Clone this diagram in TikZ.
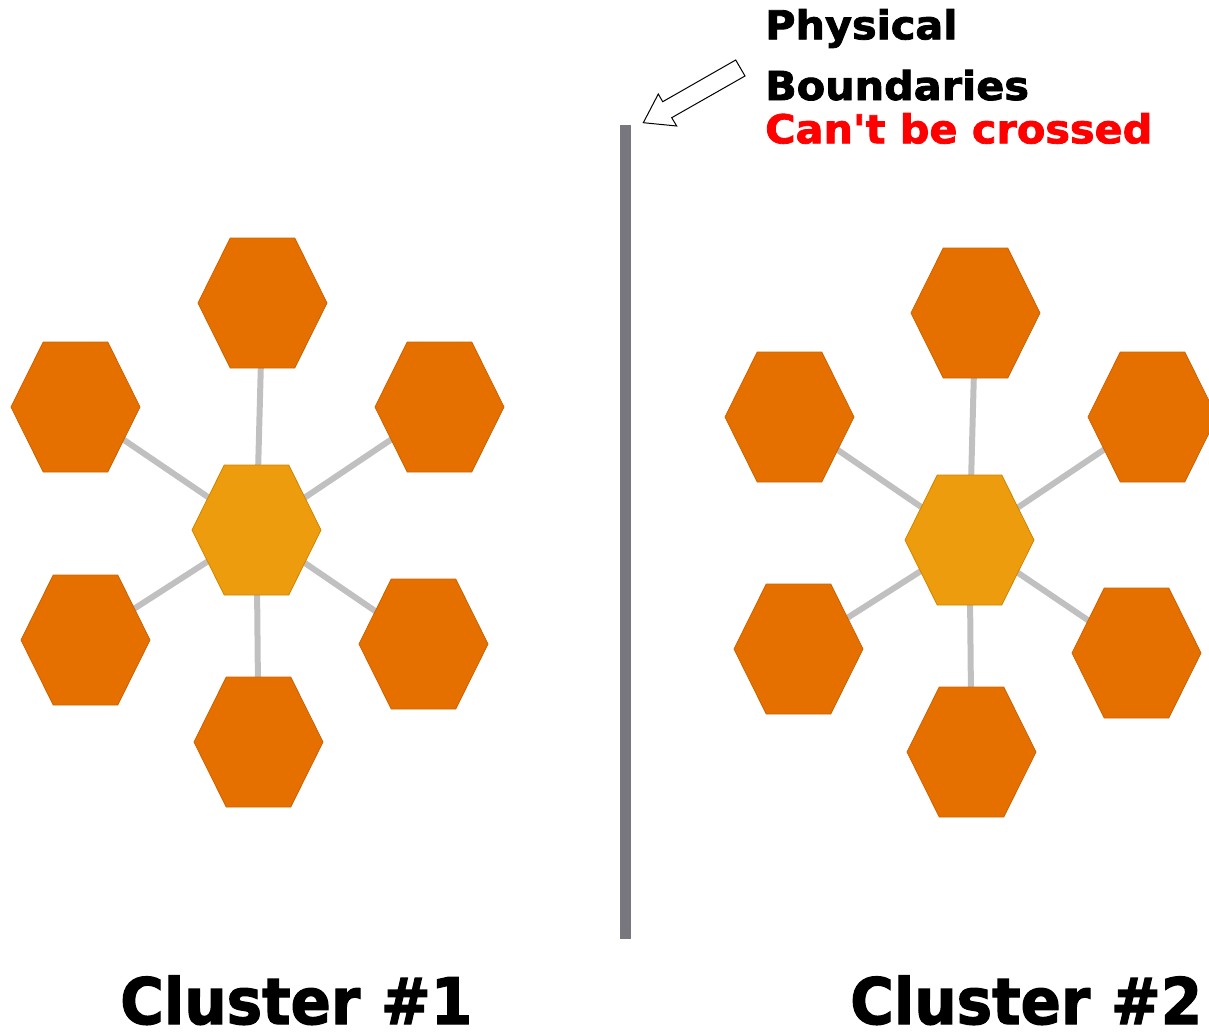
\documentclass[tikz,border=0pt]{standalone}
\usepackage{fontspec}
\setmainfont{DejaVu Sans}
\newfontfamily\straightfont{DejaVu Sans}[Ligatures=TeXOff]
\definecolor{outerhex}{HTML}{E57000}
\definecolor{outerrim}{HTML}{CC6300}
\definecolor{corehex}{HTML}{EC9C0C}
\definecolor{corerim}{HTML}{D08500}
\definecolor{linkgray}{HTML}{C0C0C0}
\definecolor{wallgray}{HTML}{77777D}
\definecolor{warnred}{HTML}{FF0000}
\newcommand{\heavy}{\bfseries\addfontfeature{FakeBold=2}}
\newcommand{\widen}[1]{\scalebox{1.04}[1]{#1}}
\tikzset{
  pics/hexa/.style={code={
    \filldraw[#1] (-64.5,0) -- (-32.25,-65) -- (32.25,-65) -- (64.5,0)
      -- (32.25,65) -- (-32.25,65) -- cycle;
  }},
  outerstyle/.style={fill=outerhex, draw=outerrim, line width=0.8pt},
  corestyle/.style={fill=corehex, draw=corerim, line width=0.8pt},
  link/.style={draw=linkgray, line width=6pt},
  wall/.style={draw=wallgray, line width=11pt},
  callout/.style={fill=white, draw=black, line width=1pt, line join=miter},
  headtext/.style={anchor=base west, inner sep=0pt, font=\fontsize{39.8}{44}\selectfont\heavy},
  clustertext/.style={anchor=base west, inner sep=0pt, font=\fontsize{64}{70}\selectfont\heavy},
}
\begin{document}
\begin{tikzpicture}[x=1pt, y=-1pt]
\useasboundingbox (0,0) rectangle (1209,1031);
\begin{scope}
\clip (0,0) rectangle (1209,1031);

% cluster 1 hub and satellites
\coordinate (a0) at (256.5,530);
\coordinate (a1) at (262.5,303);
\coordinate (a2) at (439.5,407);
\coordinate (a3) at (423.5,644);
\coordinate (a4) at (258.5,742);
\coordinate (a5) at (85.5,640);
\coordinate (a6) at (75.5,407);

% cluster 2 hub and satellites
\coordinate (b0) at (969.5,540);
\coordinate (b1) at (975.5,313);
\coordinate (b2) at (1152.5,417);
\coordinate (b3) at (1136.5,653);
\coordinate (b4) at (971.5,752);
\coordinate (b5) at (798.5,649);
\coordinate (b6) at (789.5,417);

% spokes (behind the hexagons)
\foreach \i in {1,...,6} {
  \draw[link] (a0) -- (a\i);
  \draw[link] (b0) -- (b\i);
}

% satellite hexagons
\foreach \i in {1,...,6} {
  \pic at (a\i) {hexa=outerstyle};
  \pic at (b\i) {hexa=outerstyle};
}
% hub hexagons
\pic at (a0) {hexa=corestyle};
\pic at (b0) {hexa=corestyle};
\end{scope}

% physical boundary
\coordinate (walltop) at (625,125);
\coordinate (wallbot) at (625,939);
\draw[wall] (walltop) -- (wallbot);

% callout arrow pointing at the boundary
\draw[callout] (643.3,122.7) -- (658.3,94) -- (662.7,101.7) -- (735.7,60)
  -- (745,76) -- (671.7,117.7) -- (676.7,126) -- cycle;

% labels
\node[headtext] (phys) at (765,39.3) {\widen{Physical}};
\node[headtext] (bound) at (765,100) {\widen{Boundaries}};
\node[headtext, text=warnred] (cross) at (765,143.3)
  {\straightfont\bfseries\addfontfeature{FakeBold=2}\widen{Can't be crossed}};

\node[clustertext] (c1) at (120,1024) {\scalebox{0.93}[1]{Cluster \#1}};
\node[clustertext] (c2) at (850,1024) {\scalebox{0.93}[1]{Cluster \#2}};
\end{tikzpicture}
\end{document}
